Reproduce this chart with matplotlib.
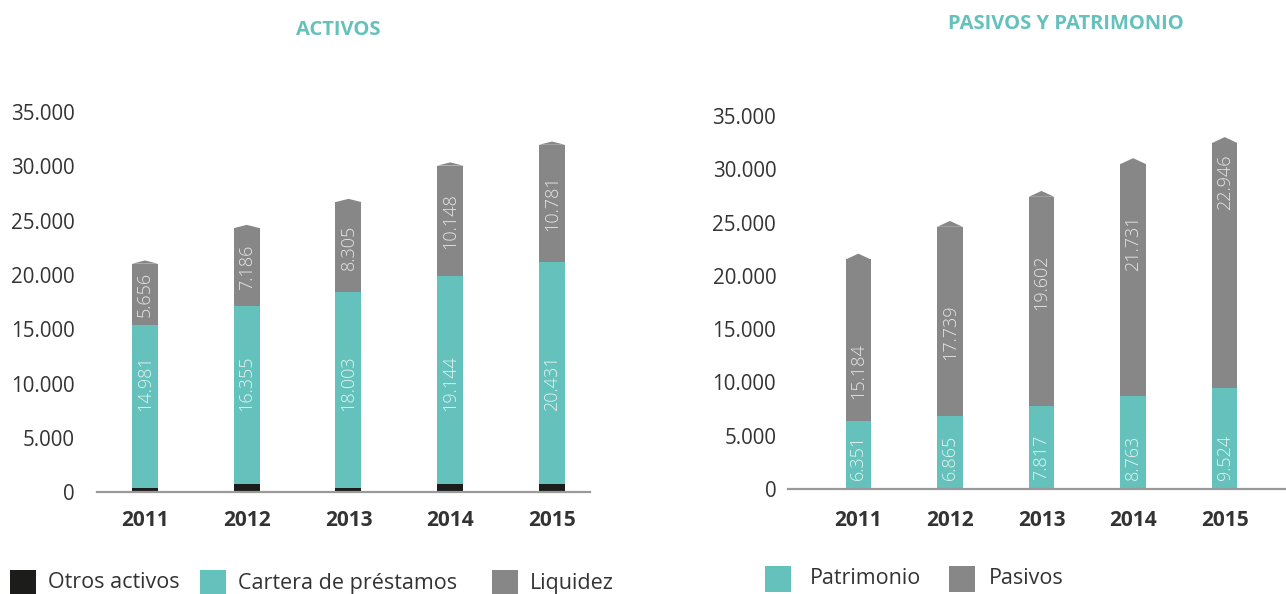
import matplotlib
matplotlib.use("Agg")
import matplotlib.pyplot as plt
from matplotlib.patches import Rectangle, Polygon

plt.rcParams['font.family'] = ['Open Sans', 'DejaVu Sans']

# Datos (millones)
years = ['2011', '2012', '2013', '2014', '2015']
otros_activos = [400, 770, 400, 770, 770]
cartera = [14981, 16355, 18003, 19144, 20431]
liquidez = [5656, 7186, 8305, 10148, 10781]
patrimonio = [6351, 6865, 7817, 8763, 9524]
pasivos = [15184, 17739, 19602, 21731, 22946]

# posicion de las etiquetas de pasivos dentro de su tramo (0 = base, 1 = tope)
pasivos_label_frac = [0.31, 0.44, 0.59, 0.66, 0.84]

TEAL = '#64c1bb'
GRAY = '#878787'
BLACK = '#1c1c1a'
TEXT = '#333333'

W, H = 1286, 594
fig = plt.figure(figsize=(W / 100, H / 100), dpi=100)


def box(x0, y_top, x1, y_bot):
    return [x0 / W, 1 - y_bot / H, (x1 - x0) / W, (y_bot - y_top) / H]


def fmt(v):
    return f"{v:,}".replace(',', '.')


def style_axis(ax, xlim, ypad, xpad):
    ax.set_xlim(*xlim)
    ax.set_ylim(0, 35000)
    for s in ['top', 'right', 'left']:
        ax.spines[s].set_visible(False)
    ax.spines['bottom'].set_color('#9a9a9a')
    ax.spines['bottom'].set_linewidth(1.6)
    ticks = list(range(0, 35001, 5000))
    ax.set_yticks(ticks)
    ax.set_yticklabels([fmt(t) for t in ticks], fontsize=14.8, color=TEXT)
    ax.set_xticks(range(len(years)))
    ax.set_xticklabels(years, fontsize=15, fontweight='bold', color=TEXT)
    ax.tick_params(axis='y', length=0, pad=ypad)
    ax.tick_params(axis='x', length=0, pad=xpad)


def cap(ax, x, top, width, height):
    pts = [(x - width / 2, top), (x, top + height), (x + width / 2, top)]
    ax.add_patch(Polygon(pts, closed=True, facecolor=GRAY, edgecolor='none'))


def vlabel(ax, x, y, val, color, va='center'):
    ax.text(x, y, fmt(val), rotation=90, ha='center', va=va, fontsize=13,
            color=color, fontweight='light')


# ---- ACTIVOS ----
ax1 = fig.add_axes(box(97, 112, 590, 492.3))
style_axis(ax1, (-0.4717, 4.3735), 16, 13)
x = list(range(len(years)))
w1 = 0.2555
base2 = [o + c for o, c in zip(otros_activos, cartera)]
ax1.bar(x, otros_activos, width=w1, color=BLACK)
ax1.bar(x, cartera, width=w1, bottom=otros_activos, color=TEAL)
ax1.bar(x, liquidez, width=w1, bottom=base2, color=GRAY)
for i in x:
    top = base2[i] + liquidez[i]
    cap(ax1, i, top, w1, 300)
    vlabel(ax1, i, 7500, cartera[i], '#e4f4f2', va='bottom')
    vlabel(ax1, i, base2[i] + liquidez[i] / 2, liquidez[i], '#e6e6e6')

fig.text(338 / W, 1 - 30 / H, 'ACTIVOS', ha='center', va='center',
         fontsize=14.5, fontweight='bold', color=TEAL)

# ---- PASIVOS Y PATRIMONIO ----
ax2 = fig.add_axes(box(788, 116, 1286, 489))
style_axis(ax2, (-0.7675, 4.669), 8.5, 15)
w2 = 0.276
ax2.bar(x, patrimonio, width=w2, color=TEAL)
ax2.bar(x, pasivos, width=w2, bottom=patrimonio, color=GRAY)
for i in x:
    top = patrimonio[i] + pasivos[i]
    cap(ax2, i, top, w2, 550)
    vlabel(ax2, i, 850, patrimonio[i], '#e4f4f2', va='bottom')
    vlabel(ax2, i, patrimonio[i] + pasivos[i] * pasivos_label_frac[i],
           pasivos[i], '#e6e6e6')

fig.text(1066 / W, 1 - 24 / H, 'PASIVOS Y PATRIMONIO', ha='center', va='center',
         fontsize=14.5, fontweight='bold', color=TEAL)


# ---- leyendas ----
def legend_item(x0, y_top, size, color, label, tx, ty):
    fig.patches.append(Rectangle((x0 / W, 1 - (y_top + size) / H), size / W, size / H,
                                 transform=fig.transFigure, facecolor=color,
                                 edgecolor='none', figure=fig))
    fig.text(tx / W, 1 - ty / H, label, ha='left', va='center',
             fontsize=15.5, color=TEXT)


legend_item(10, 570, 26, BLACK, 'Otros activos', 48, 583)
legend_item(200, 570, 26, TEAL, 'Cartera de préstamos', 238, 583)
legend_item(492, 570, 26, GRAY, 'Liquidez', 530, 583)
legend_item(765, 566, 26, TEAL, 'Patrimonio', 810, 578)
legend_item(949, 566, 26, GRAY, 'Pasivos', 989, 578)

fig.savefig('out.png', dpi=100)
